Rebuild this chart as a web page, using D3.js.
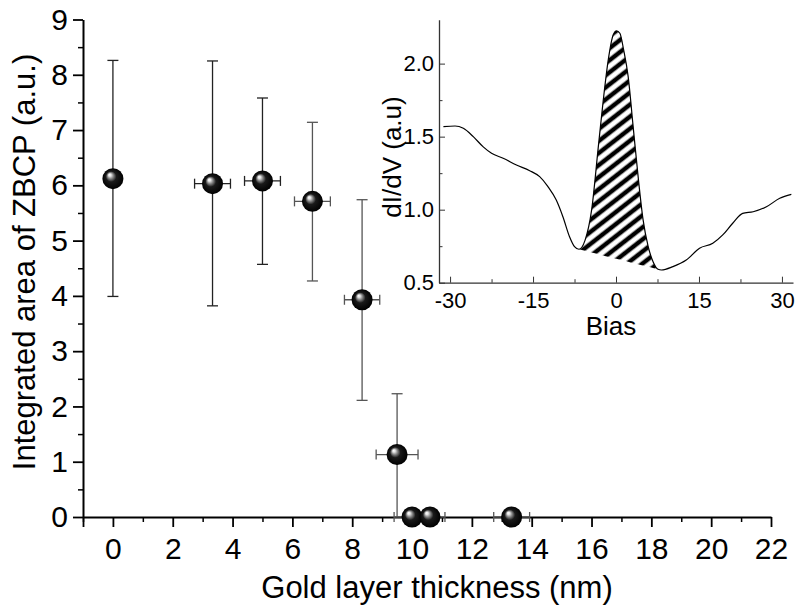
<!DOCTYPE html>
<html>
<head>
<meta charset="utf-8">
<script src="https://cdn.jsdelivr.net/npm/d3@7"></script>
<style>
  body { margin: 0; background: #fff; }
  svg { display: block; font-family: Arial, "Liberation Sans", sans-serif; }
  .axis path, .axis line { stroke: #000; }
  .inset-axis path, .inset-axis line { stroke: #333; }
</style>
</head>
<body>
<div id="chart"></div>
<script>
// main plot: integrated ZBCP area vs gold layer thickness
const thickness = [0, 3.33, 5.0, 6.67, 8.33, 9.5, 10.0, 10.6, 13.33];
const thicknessErr = [0, 0.6, 0.6, 0.6, 0.59, 0.7, 0.6, 0.5, 0.6];
const area = [6.12, 6.03, 6.08, 5.71, 3.93, 1.13, 0, 0, 0];
const areaHigh = [8.26, 8.25, 7.58, 7.14, 5.74, 2.23, 0, 0, 0];
const areaLow = [3.99, 3.82, 4.57, 4.27, 2.11, 0, 0, 0, 0];
const xTicks = [0, 2, 4, 6, 8, 10, 12, 14, 16, 18, 20, 22];
const yTicks = [0, 1, 2, 3, 4, 5, 6, 7, 8, 9];

// inset: dI/dV spectrum
const bias = [-31.2, -29.1, -27.6, -25.8, -24.0, -22.5, -20.4, -18.0, -15.6, -13.8, -12.3, -10.8,
  -9.6, -8.4, -7.5, -6.7, -5.6, -4.4, -3.2, -2.3, -1.4, -0.5, 0.1, 0.7, 1.4, 2.2, 3.1, 4.0,
  4.9, 5.8, 6.7, 7.6, 8.2, 10.3, 12.7, 15.1, 17.5, 19.3, 21.1, 22.9, 24.8, 27.2, 29.6, 31.7];
const didv = [1.569, 1.573, 1.557, 1.50, 1.43, 1.386, 1.352, 1.306, 1.267, 1.226, 1.158, 1.066,
  0.952, 0.815, 0.747, 0.729, 0.79, 1.0, 1.43, 1.75, 2.025, 2.197, 2.224, 2.208, 2.09, 1.911, 1.569, 1.226,
  0.93, 0.75, 0.644, 0.592, 0.587, 0.61, 0.655, 0.736, 0.77, 0.827, 0.907, 0.975, 0.986, 1.02, 1.078, 1.105];
const peakFrom = -6.7;
const peakTo = 8.2;
const biasTicks = [-30, -15, 0, 15, 30];
const didvTicks = [0.5, 1.0, 1.5, 2.0];

const FONT = 'Arial, "Liberation Sans", sans-serif';
const W = 795, H = 610;
const svg = d3.select('#chart').append('svg')
  .attr('width', W)
  .attr('height', H);

const defs = svg.append('defs');

const ball = defs.append('radialGradient')
  .attr('id', 'ball')
  .attr('cx', '0.5').attr('cy', '0.5').attr('r', '0.5')
  .attr('fx', '0.33').attr('fy', '0.3');
[[0, '#ffffff'], [0.12, '#e8e8e8'], [0.28, '#8a8a8a'], [0.5, '#1a1a1a'], [1, '#000000']]
  .forEach(function (s) {
    ball.append('stop').attr('offset', s[0]).attr('stop-color', s[1]);
  });

const hatch = defs.append('pattern')
  .attr('id', 'hatch')
  .attr('patternUnits', 'userSpaceOnUse')
  .attr('width', 20)
  .attr('height', 9.5)
  .attr('patternTransform', 'rotate(-38)');
hatch.append('rect').attr('width', 20).attr('height', 9.5).attr('fill', '#fff');
hatch.append('rect').attr('y', 2.5).attr('width', 20).attr('height', 4.5).attr('fill', '#000');

// ---------- main plot ----------
const x = d3.scaleLinear().domain([-1, 22]).range([83, 771]);
const y = d3.scaleLinear().domain([0, 9]).range([517, 19.5]);

const xMinor = d3.range(-1, 23, 1).filter(d => xTicks.indexOf(d) < 0);
const yMinor = d3.range(0.5, 9, 1);

function styleText(g, size) {
  g.selectAll('text')
    .attr('font-size', size)
    .attr('fill', '#000')
    .attr('font-family', FONT);
}

svg.append('g')
  .attr('class', 'axis')
  .attr('transform', `translate(0,${y(0)})`)
  .call(d3.axisBottom(x).tickValues(xMinor).tickSize(5).tickSizeOuter(0).tickFormat(''))
  .call(g => g.selectAll('line').attr('stroke-width', 1.5))
  .call(g => g.select('.domain').remove());

svg.append('g')
  .attr('class', 'axis')
  .attr('transform', `translate(0,${y(0)})`)
  .call(d3.axisBottom(x).tickValues(xTicks.concat([-1])).tickSize(10).tickSizeOuter(0).tickPadding(11)
    .tickFormat(d => d < 0 ? '' : String(d)))
  .call(g => g.selectAll('line').attr('stroke-width', 1.8))
  .call(g => g.select('.domain').attr('stroke-width', 2))
  .call(g => styleText(g, 30));

svg.append('g')
  .attr('class', 'axis')
  .attr('transform', `translate(${x(-1)},0)`)
  .call(d3.axisLeft(y).tickValues(yMinor).tickSize(5).tickSizeOuter(0).tickFormat(''))
  .call(g => g.selectAll('line').attr('stroke-width', 1.5))
  .call(g => g.select('.domain').remove());

svg.append('g')
  .attr('class', 'axis')
  .attr('transform', `translate(${x(-1)},0)`)
  .call(d3.axisLeft(y).tickValues(yTicks).tickSize(10).tickSizeOuter(0).tickPadding(5)
    .tickFormat(d => String(d)))
  .call(g => g.selectAll('line').attr('stroke-width', 1.8))
  .call(g => g.select('.domain').attr('stroke-width', 2))
  .call(g => styleText(g, 30));

svg.append('text')
  .attr('x', 437)
  .attr('y', 598)
  .attr('text-anchor', 'middle')
  .attr('font-size', 31)
  .text('Gold layer thickness (nm)');

svg.append('text')
  .attr('transform', 'translate(35,262) rotate(-90)')
  .attr('text-anchor', 'middle')
  .attr('font-size', 31)
  .text('Integrated area of ZBCP (a.u.)');

const points = thickness.map((t, i) => ({
  t: t, dt: thicknessErr[i], v: area[i], hi: areaHigh[i], lo: areaLow[i], i: i
}));

const bars = svg.append('g')
  .attr('fill', 'none')
  .attr('stroke-width', 1.3);

points.forEach(function (p) {
  const col = p.i < 3 ? '#222' : '#555';
  const cx = x(p.t);
  const cy = y(p.v);
  if (p.hi > p.lo) {
    bars.append('line').attr('x1', cx).attr('x2', cx).attr('y1', y(p.hi)).attr('y2', y(p.lo)).attr('stroke', col);
    bars.append('line').attr('x1', cx - 5.5).attr('x2', cx + 5.5).attr('y1', y(p.hi)).attr('y2', y(p.hi)).attr('stroke', col);
    if (p.lo > 0) {
      bars.append('line').attr('x1', cx - 5.5).attr('x2', cx + 5.5).attr('y1', y(p.lo)).attr('y2', y(p.lo)).attr('stroke', col);
    }
  }
  if (p.dt > 0) {
    bars.append('line').attr('x1', x(p.t - p.dt)).attr('x2', x(p.t + p.dt)).attr('y1', cy).attr('y2', cy).attr('stroke', col);
    [p.t - p.dt, p.t + p.dt].forEach(function (e) {
      bars.append('line').attr('x1', x(e)).attr('x2', x(e)).attr('y1', cy - 5).attr('y2', cy + 5).attr('stroke', col);
    });
  }
});

svg.append('g')
  .selectAll('circle')
  .data(points)
  .join('circle')
  .attr('cx', d => x(d.t))
  .attr('cy', d => y(d.v))
  .attr('r', 10.5)
  .attr('fill', 'url(#ball)');

// ---------- inset ----------
const ix = d3.scaleLinear().domain([-32, 32]).range([439, 793]);
const iy = d3.scaleLinear().domain([0.5, 2.3]).range([282.7, 19.8]);

const spec = bias.map((b, i) => ({b: b, v: didv[i]}));
const baseAt = d3.scaleLinear()
  .domain([peakFrom, peakTo])
  .range([spec.find(d => d.b === peakFrom).v, spec.find(d => d.b === peakTo).v]);

const peak = spec.filter(d => d.b >= peakFrom && d.b <= peakTo);

svg.append('path')
  .datum(peak)
  .attr('fill', 'url(#hatch)')
  .attr('d', d3.area()
    .x(d => ix(d.b))
    .y0(d => iy(baseAt(d.b)))
    .y1(d => iy(d.v))
    .curve(d3.curveMonotoneX));

svg.append('path')
  .datum(spec)
  .attr('fill', 'none')
  .attr('stroke', '#000')
  .attr('stroke-width', 1.2)
  .attr('d', d3.line()
    .x(d => ix(d.b))
    .y(d => iy(d.v))
    .curve(d3.curveMonotoneX));

svg.append('g')
  .attr('class', 'inset-axis')
  .attr('transform', `translate(0,${iy.range()[0]})`)
  .call(d3.axisBottom(ix).tickValues([-22.5, -7.5, 7.5, 22.5]).tickSize(-3.5).tickSizeOuter(0).tickFormat(''))
  .call(g => g.select('.domain').remove());

svg.append('g')
  .attr('class', 'inset-axis')
  .attr('transform', `translate(0,${iy.range()[0]})`)
  .call(d3.axisBottom(ix).tickValues(biasTicks).tickSize(-6).tickSizeOuter(0).tickPadding(10)
    .tickFormat(d => String(d)))
  .call(g => g.select('.domain').attr('stroke-width', 1.3))
  .call(g => styleText(g, 22));

svg.append('g')
  .attr('class', 'inset-axis')
  .attr('transform', `translate(${ix.range()[0]},0)`)
  .call(d3.axisLeft(iy).tickValues([0.75, 1.25, 1.75]).tickSize(-3.5).tickSizeOuter(0).tickFormat(''))
  .call(g => g.select('.domain').remove());

svg.append('g')
  .attr('class', 'inset-axis')
  .attr('transform', `translate(${ix.range()[0]},0)`)
  .call(d3.axisLeft(iy).tickValues(didvTicks).tickSize(-6).tickSizeOuter(0).tickPadding(5)
    .tickFormat(d3.format('.1f')))
  .call(g => g.select('.domain').attr('stroke-width', 1.3))
  .call(g => styleText(g, 22));

svg.append('text')
  .attr('x', 611)
  .attr('y', 335)
  .attr('text-anchor', 'middle')
  .attr('font-size', 26)
  .text('Bias');

svg.append('text')
  .attr('transform', 'translate(401,157) rotate(-90)')
  .attr('text-anchor', 'middle')
  .attr('font-size', 26)
  .text('dI/dV (a.u)');
</script>
</body>
</html>
